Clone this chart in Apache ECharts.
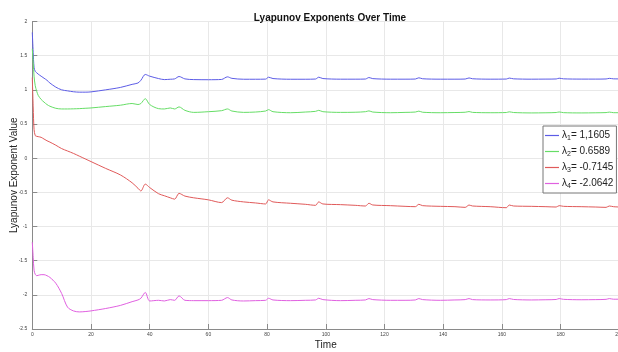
<!DOCTYPE html>
<html><head><meta charset="utf-8">
<script src="https://cdn.jsdelivr.net/npm/echarts@6/dist/echarts.min.js"></script>
<style>html,body{margin:0;padding:0;background:#fff}#c{width:618px;height:352px}</style>
</head><body><div id="c"></div>
<script>
const time = [0,0.3,0.6,1,1.5,2,3,4,5,6,8,10,12,14,16,18,20,
  25,30,34,36,37,38.5,40,43,45,47,48.5,50,52,55,60,
  64.5,66.5,68,72,76,
  79.5,80.5,82,88,93,
  96.5,97.6,99,105,110,
  113.5,114.7,116,122,127,
  130.5,131.7,133,139,144,
  147.5,148.8,150,156,
  161.5,162.5,164,170,175,
  178.5,179.5,181,187,192,
  195.5,196.6,198,200];
const lambda1 = [1.84,1.55,1.33,1.27,1.25,1.23,1.2,1.17,1.14,1.1,1.04,1.0,0.985,0.972,0.966,0.966,0.97,
  1.0,1.035,1.08,1.1,1.14,1.225,1.2,1.165,1.15,1.155,1.16,1.195,1.16,1.15,1.148,
  1.152,1.19,1.168,1.155,1.155,
  1.157,1.185,1.165,1.155,1.155,
  1.158,1.185,1.165,1.156,1.156,
  1.158,1.18,1.164,1.156,1.156,
  1.158,1.176,1.162,1.156,1.156,
  1.158,1.174,1.162,1.156,
  1.158,1.172,1.161,1.156,1.157,
  1.159,1.17,1.161,1.157,1.157,
  1.159,1.168,1.161,1.16];
const lambda2 = [1.6,1.4,1.2,1.06,0.98,0.92,0.86,0.82,0.785,0.76,0.73,0.72,0.72,0.722,0.725,0.73,0.735,
  0.755,0.775,0.8,0.785,0.8,0.87,0.785,0.725,0.72,0.735,0.72,0.75,0.7,0.67,0.68,
  0.695,0.72,0.69,0.67,0.675,
  0.69,0.71,0.68,0.665,0.675,
  0.685,0.7,0.68,0.67,0.672,
  0.68,0.692,0.675,0.665,0.67,
  0.675,0.688,0.672,0.665,0.668,
  0.672,0.682,0.67,0.665,
  0.668,0.678,0.668,0.662,0.664,
  0.668,0.676,0.666,0.662,0.664,
  0.667,0.674,0.666,0.665];
const lambda3 = [1.18,0.75,0.42,0.33,0.32,0.315,0.305,0.28,0.255,0.235,0.19,0.14,0.105,0.07,0.03,-0.01,-0.05,
  -0.15,-0.245,-0.36,-0.44,-0.48,-0.38,-0.43,-0.52,-0.55,-0.58,-0.6,-0.515,-0.555,-0.58,-0.61,
  -0.65,-0.58,-0.615,-0.64,-0.655,
  -0.67,-0.61,-0.64,-0.66,-0.675,
  -0.69,-0.64,-0.67,-0.68,-0.69,
  -0.7,-0.66,-0.685,-0.695,-0.705,
  -0.71,-0.675,-0.695,-0.705,-0.71,
  -0.72,-0.686,-0.7,-0.71,
  -0.725,-0.686,-0.7,-0.705,-0.71,
  -0.715,-0.695,-0.705,-0.71,-0.715,
  -0.72,-0.7,-0.71,-0.715];
const lambda4 = [-1.23,-1.45,-1.64,-1.7,-1.72,-1.715,-1.705,-1.705,-1.72,-1.745,-1.83,-1.98,-2.18,-2.235,-2.25,-2.245,-2.235,
  -2.2,-2.155,-2.1,-2.075,-2.05,-1.965,-2.09,-2.08,-2.09,-2.07,-2.08,-2.015,-2.08,-2.085,-2.085,
  -2.08,-2.04,-2.075,-2.09,-2.085,
  -2.08,-2.05,-2.075,-2.085,-2.08,
  -2.075,-2.05,-2.07,-2.085,-2.08,
  -2.075,-2.055,-2.07,-2.08,-2.08,
  -2.075,-2.055,-2.07,-2.08,-2.075,
  -2.07,-2.055,-2.07,-2.075,
  -2.07,-2.055,-2.068,-2.075,-2.072,
  -2.068,-2.055,-2.066,-2.072,-2.07,
  -2.066,-2.055,-2.064,-2.064];
const seriesNames = ['l1','l2','l3','l4'];
const legendSub = ['1','2','3','4'];
const legendVal = ['= 1,1605','= 0.6589','= -0.7145','= -2.0642'];
const colors = ['#5c5ce6','#66dd66','#e05a5a','#e060e0'];
const allValues = [lambda1, lambda2, lambda3, lambda4];

const chart = echarts.init(document.getElementById('c'), null, {renderer:'canvas'});
const FONT = 'Liberation Sans, Arial, sans-serif';
chart.setOption({
  animation:false,
  backgroundColor:'#fff',
  title:{text:'Lyapunov Exponents Over Time', left:325, top:8, textAlign:'center',
    textStyle:{fontSize:10, fontWeight:'bold', color:'#111', fontFamily:FONT}},
  grid:{left:32.3, right:-1.3, top:21.5, bottom:23, containLabel:false, outerBoundsMode:'none'},
  legend:{
    orient:'vertical', left:543, top:126, width:74,
    backgroundColor:'#fff', borderColor:'#777', borderWidth:1,
    padding:[4,3,3,2], itemGap:4, itemWidth:14, itemHeight:1.2, icon:'rect',
    data: seriesNames,
    formatter: function(n){ const i = seriesNames.indexOf(n); return '{a|λ}{s|'+legendSub[i]+'}{a|'+legendVal[i]+'}'; },
    textStyle:{fontFamily:FONT, color:'#222', padding:[0,0,0,-2],
      rich:{a:{fontSize:10, fontFamily:FONT, color:'#222', lineHeight:13},
            s:{fontSize:7, fontFamily:FONT, color:'#222', verticalAlign:'bottom', padding:[5,0,0,0], lineHeight:13}}}
  },
  xAxis:{type:'value', min:0, max:200, interval:20,
    name:'Time', nameLocation:'middle', nameGap:11, nameMoveOverlap:false,
    nameTextStyle:{fontSize:10, color:'#222', fontFamily:FONT},
    axisLine:{onZero:false, lineStyle:{color:'#8a8a8a', width:1}},
    axisTick:{inside:true, length:5, lineStyle:{color:'#8a8a8a'}},
    axisLabel:{fontSize:5, color:'#444', margin:3, fontFamily:FONT},
    splitLine:{show:true, lineStyle:{color:'#e8e8e8', width:1}}},
  yAxis:{type:'value', min:-2.5, max:2, interval:0.5,
    name:'Lyapunov Exponent Value', nameLocation:'middle', nameGap:13, nameMoveOverlap:false,
    nameTextStyle:{fontSize:10, color:'#222', fontFamily:FONT},
    axisLine:{show:true, onZero:false, lineStyle:{color:'#8a8a8a', width:1}},
    axisTick:{show:true, inside:true, length:5, lineStyle:{color:'#8a8a8a'}},
    axisLabel:{fontSize:5, color:'#444', margin:5, fontFamily:FONT},
    splitLine:{show:true, lineStyle:{color:'#e8e8e8', width:1}}},
  series: allValues.map((vals,i)=>({
    name:seriesNames[i], type:'line', showSymbol:false, symbol:'none', smooth:0.3,
    lineStyle:{color:colors[i], width:1}, itemStyle:{color:colors[i]},
    data: time.map((t,k)=>[t, vals[k]])
  }))
});
</script></body></html>
